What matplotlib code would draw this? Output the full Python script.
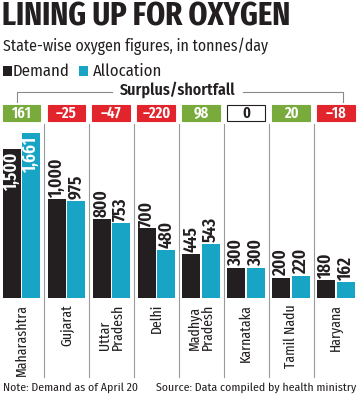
import matplotlib
matplotlib.use("Agg")
import matplotlib.pyplot as plt
from matplotlib.patches import Rectangle
from matplotlib.lines import Line2D
import matplotlib.transforms as mtransforms

states = ["Maharashtra", "Gujarat", "Uttar\nPradesh", "Delhi", "Madhya\nPradesh",
          "Karnataka", "Tamil Nadu", "Haryana"]
demand = [1500, 1000, 800, 700, 445, 300, 200, 180]
allocation = [1661, 975, 753, 480, 543, 300, 220, 162]
surplus = [161, -25, -47, -220, 98, 0, 20, -18]
demand_labels = ["1,500", "1,000", "800", "700", "445", "300", "200", "180"]
alloc_labels = ["1,661", "975", "753", "480", "543", "300", "220", "162"]

BLACK = "#231f20"
TEAL = "#18a4c4"
GREEN = "#79ab3c"
RED = "#e2252d"

W, H = 360, 400
fig = plt.figure(figsize=(3.6, 4.0), dpi=100)
fig.patch.set_facecolor("white")

XC = ["Fira Sans Extra Condensed", "DejaVu Sans"]
CO = ["Fira Sans Condensed", "DejaVu Sans"]

def fy(p):
    return 1 - p / H

def fx(p):
    return p / W

# titles
fig.text(fx(2), fy(17), "LINING UP FOR OXYGEN", family=XC, weight="bold",
         fontsize=23.8, color=BLACK, va="center", ha="left")
fig.text(fx(3), fy(46), "State-wise oxygen figures, in tonnes/day", family=CO,
         fontsize=11.4, color=BLACK, va="center", ha="left")

# legend
fig.patches.append(Rectangle((fx(3), fy(76)), fx(9), 10 / H, transform=fig.transFigure,
                             facecolor=BLACK, edgecolor="none"))
fig.text(fx(13), fy(71), "Demand", family=CO, fontsize=12, color=BLACK, va="center")
fig.patches.append(Rectangle((fx(79), fy(76)), fx(9), 10 / H, transform=fig.transFigure,
                             facecolor=TEAL, edgecolor="none"))
fig.text(fx(93), fy(71), "Allocation", family=CO, fontsize=12, color=BLACK, va="center")

# bars axes
base_px, top_px = 298, 100
px_per_unit = 0.0993
ax = fig.add_axes([0, fy(base_px), 1, (base_px - top_px) / H])
pitch = 44.93
c0 = 21.5
ax.set_xlim(-c0 / pitch, (W - c0) / pitch)
ax.set_ylim(0, (base_px - top_px) / px_per_unit)
ax.axis("off")

off = 0.217
bw = 0.40
x = list(range(len(states)))
ax.bar([i - off for i in x], demand, width=bw, color=BLACK)
ax.bar([i + off for i in x], allocation, width=bw, color=TEAL)

for i in x:
    d, a = demand[i], allocation[i]
    if i == 0:
        ax.text(i - off, d - 25, demand_labels[i], rotation=90, ha="center", va="top",
                color="white", family=XC, weight="semibold", fontsize=13.5)
        ax.text(i + off, a - 25, alloc_labels[i], rotation=90, ha="center", va="top",
                color="white", family=XC, weight="semibold", fontsize=13.5)
    else:
        ax.text(i - off, d + 20, demand_labels[i], rotation=90, ha="center", va="bottom",
                color=BLACK, family=XC, weight="semibold", fontsize=13.5)
        ax.text(i + off, a + 20, alloc_labels[i], rotation=90, ha="center", va="bottom",
                color=BLACK, family=XC, weight="semibold", fontsize=13.5)

trans = mtransforms.blended_transform_factory(ax.transData, fig.transFigure)

# separators
for i in range(len(states) - 1):
    fig.lines.append(Line2D([i + 0.5, i + 0.5], [fy(124), fy(377)], transform=trans,
                            color="#9a9a9a", lw=0.8))

# surplus boxes
for i, s in enumerate(surplus):
    if s > 0:
        fc, tc, ec = GREEN, "white", GREEN
    elif s < 0:
        fc, tc, ec = RED, "white", RED
    else:
        fc, tc, ec = "white", BLACK, BLACK
    fig.patches.append(Rectangle((i - 0.42, fy(121)), 0.84, 16 / H, transform=trans,
                                 facecolor=fc, edgecolor=ec, lw=0.8))
    txt = str(s).replace("-", "\u2013") if s < 0 else str(s)
    fig.text(i, fy(113), txt, transform=trans, ha="center", va="center",
             color=tc, family=XC, weight="semibold", fontsize=11.5)

# surplus/shortfall bracket
fig.lines.append(Line2D([fx(17), fx(17), fx(112)], [fy(102), fy(92), fy(92)],
                        transform=fig.transFigure, color="#8a8a8a", lw=0.8))
fig.lines.append(Line2D([fx(243), fx(343), fx(343)], [fy(92), fy(92), fy(102)],
                        transform=fig.transFigure, color="#8a8a8a", lw=0.8))
fig.text(fx(178), fy(90), "Surplus/shortfall", family=CO, weight="semibold",
         fontsize=11.5, color=BLACK, ha="center", va="center")

# category labels
for i, s in enumerate(states):
    fig.text(i, fy(304), s, transform=trans, rotation=90, ha="center", va="top",
             family=XC, fontsize=10.8, color=BLACK, linespacing=0.9,
             multialignment="left")

# footer
fig.text(fx(3), fy(388), "Note: Demand as of April 20", family=CO, fontsize=8.5,
         color=BLACK, ha="left", va="center")
fig.text(fx(356), fy(388), "Source: Data compiled by health ministry", family=CO,
         fontsize=8.5, color=BLACK, ha="right", va="center")

fig.savefig("out.png", dpi=100, facecolor="white")
